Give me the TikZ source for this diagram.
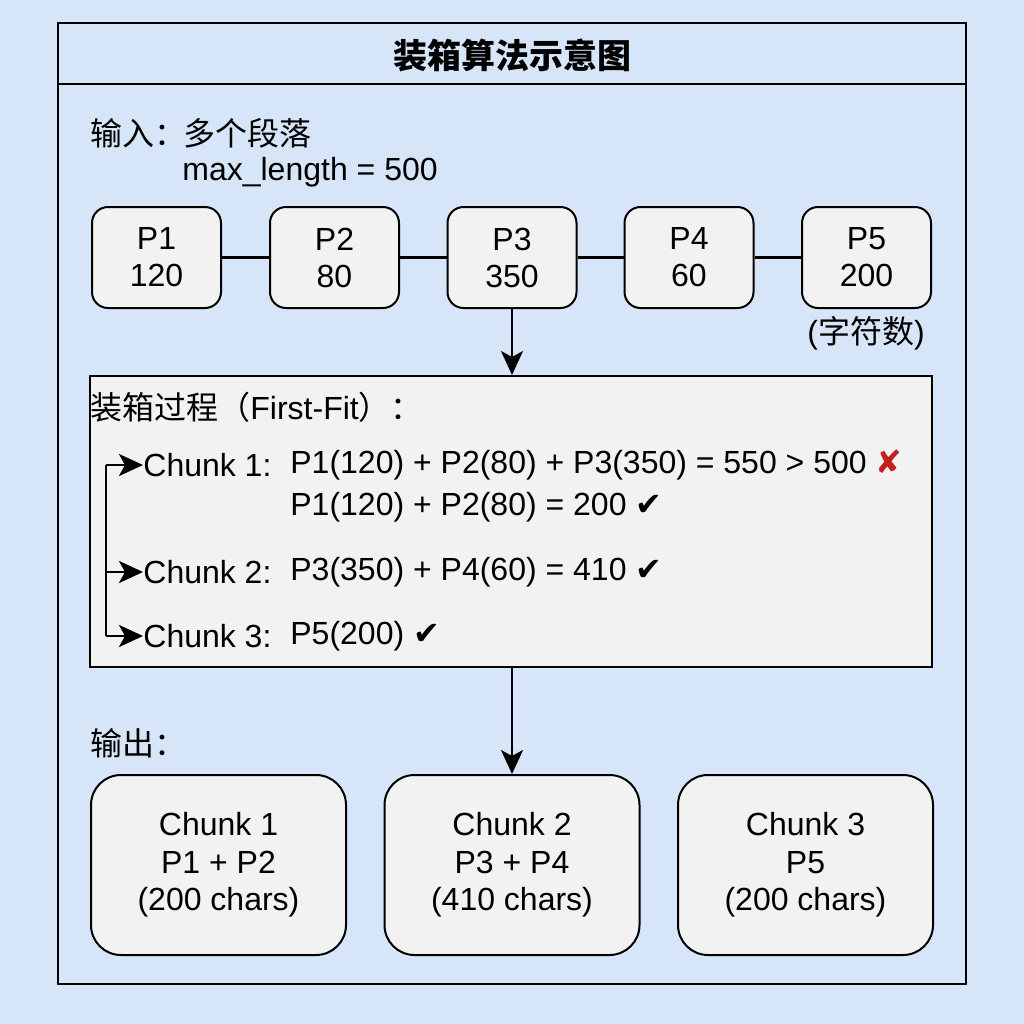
\documentclass[tikz,border=0pt]{standalone}
\usepackage{fontspec}
\setmainfont{Liberation Sans}
\newfontfamily\cjk{Noto Sans CJK SC}
\newfontfamily\sym{DejaVu Sans}
\usetikzlibrary{arrows.meta}
\definecolor{bg}{HTML}{D6E6F8}
\definecolor{boxfill}{HTML}{F2F2F2}
\definecolor{xred}{HTML}{C41E1E}
\begin{document}
\begin{tikzpicture}[x=0.5pt,y=-0.5pt,
  txt/.style={font=\fontsize{16}{18}\selectfont, inner sep=0pt},
  pbox/.style={draw, line width=1pt, fill=boxfill, rounded corners=8pt,
    minimum width=64.5pt, minimum height=50.5pt, align=center, inner sep=0pt,
    font=\fontsize{16}{18.5}\selectfont},
  obox/.style={draw, line width=1pt, fill=boxfill, rounded corners=15pt,
    minimum width=127.5pt, minimum height=90pt, align=center, inner sep=0pt,
    font=\fontsize{16}{18.75}\selectfont},
  arr/.style={line width=1.1pt, -{Stealth[length=12pt,width=11pt,inset=3pt]}},
  conn/.style={line width=1.1pt}]
\fill[bg] (0,0) rectangle (1024,1024);
% outer frame
\draw[line width=1.2pt] (58,23) rectangle (966,984);
\draw[line width=1.2pt] (58,84) -- (966,84);
\node[inner sep=0pt, font=\fontsize{17}{20}\selectfont\cjk\bfseries] (title) at (512,55) {装箱算法示意图};
% input
\node[txt, anchor=west] (inlab) at (90,133) {\cjk 输入：};
\node[txt, anchor=west] (indesc) at (183,133) {\cjk 多个段落};
\node[txt, anchor=west] (maxlen) at (182,172) {max\_length = 500};
% paragraph boxes
\node[pbox] (p1) at (156.5,257.5) {P1\\120};
\node[pbox] (p2) at (334.5,257.5) {P2\\80};
\node[pbox] (p3) at (512,257.5) {P3\\350};
\node[pbox] (p4) at (689,257.5) {P4\\60};
\node[pbox] (p5) at (866.5,257.5) {P5\\200};
\draw[conn] (p1) -- (p2);
\draw[conn] (p2) -- (p3);
\draw[conn] (p3) -- (p4);
\draw[conn] (p4) -- (p5);
\node[txt] (unit) at (866,333) {({\cjk 字符数})};
% process box
\node[draw, line width=1pt, fill=boxfill, minimum width=421pt, minimum height=145.5pt, inner sep=0pt] (proc) at (511,521.5) {};
\draw[arr] (p3.south) -- (p3.south |- proc.north);
\node[txt, anchor=west] (ptitle) at (90,407) {{\cjk 装箱过程（}First-Fit{\cjk ）：}};
\node[txt, anchor=west] (c1) at (143,465) {Chunk 1:};
\node[txt, anchor=west] (e1) at (290,465) {P1(120) + P2(80) + P3(350) = 550 > 500 {\sym\color{xred}\bfseries ✘}};
\node[txt, anchor=west] (e1b) at (290,507) {P1(120) + P2(80) = 200 {\sym ✔}};
\node[txt, anchor=west] (c2) at (143,572) {Chunk 2:};
\node[txt, anchor=west] (e2) at (290,572) {P3(350) + P4(60) = 410 {\sym ✔}};
\node[txt, anchor=west] (c3) at (143,636) {Chunk 3:};
\node[txt, anchor=west] (e3) at (290,636) {P5(200) {\sym ✔}};
\coordinate (t1) at (106,465);
\coordinate (t2) at (106,572);
\coordinate (t3) at (106,636);
\draw[conn] (t1) -- (t3);
\draw[arr] (t1) -- (c1.west);
\draw[arr] (t2) -- (c2.west);
\draw[arr] (t3) -- (c3.west);
% output
\node[txt, anchor=west] (outlab) at (90,743) {\cjk 输出：};
\node[obox] (o1) at (218.5,865) {Chunk 1\\P1 + P2\\(200 chars)};
\node[obox] (o2) at (512,865) {Chunk 2\\P3 + P4\\(410 chars)};
\node[obox] (o3) at (805.5,865) {Chunk 3\\P5\\(200 chars)};
\draw[arr] (o2.north |- proc.south) -- (o2.north);
\end{tikzpicture}
\end{document}
